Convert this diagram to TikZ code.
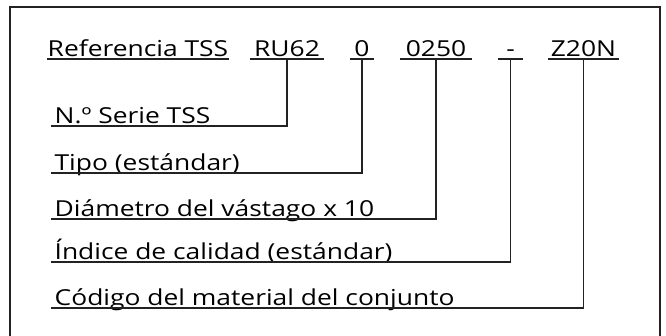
\documentclass[tikz,border=0pt]{standalone}
\usepackage{fontspec}
\setmainfont{Open Sans}[FakeStretch=1.2]
\usepackage{tikz}
\definecolor{CodeLine}{HTML}{222222}

\begin{document}
\begin{tikzpicture}[x=0.5pt,y=-0.5pt,font=\fontsize{11pt}{13pt}\selectfont,
  line width=0.65pt,
  code/.style={inner sep=0pt,text depth=1pt,anchor=south},
  legend/.style={inner xsep=1.5pt,inner ysep=0pt,text depth=1pt,anchor=south west}]
  \useasboundingbox (0,0) rectangle (666,336);
  \draw[CodeLine] (10,340) |- (660,7) -- (660,340);
  % reference code
  \node[code,minimum width=87pt] (ref) at (138,59) {Referencia TSS};
  \node[code,minimum width=36pt] (ru) at (287,59) {RU62};
  \node[code,minimum width=11pt] (tipo) at (362,59) {0};
  \node[code,minimum width=35pt] (diam) at (436,59) {0250};
  \node[code,minimum width=11.5pt] (ind) at (510.5,59) {-};
  \node[code,minimum width=34.5pt] (mat) at (583.5,59) {Z20N};
  \foreach \n in {ref,ru,tipo,diam,ind,mat}
    \draw[CodeLine] (\n.south west) -- (\n.south east);
  % legends
  \node[legend] (serieL) at (51,126) {N.º Serie TSS};
  \node[legend] (tipoL) at (51,173) {Tipo (estándar)};
  \node[legend] (diamL) at (51,219) {Diámetro del vástago x 10};
  \node[legend] (indL) at (51,262) {Índice de calidad (estándar)};
  \node[legend] (matL) at (51,308) {Código del material del conjunto};
  \draw[CodeLine] (ru.south) |- (serieL.south west);
  \draw[CodeLine] (tipo.south) |- (tipoL.south west);
  \draw[CodeLine] (diam.south) |- (diamL.south west);
  \draw[CodeLine] (ind.south) |- (indL.south west);
  \draw[CodeLine] (mat.south) |- (matL.south west);
\end{tikzpicture}
\end{document}
